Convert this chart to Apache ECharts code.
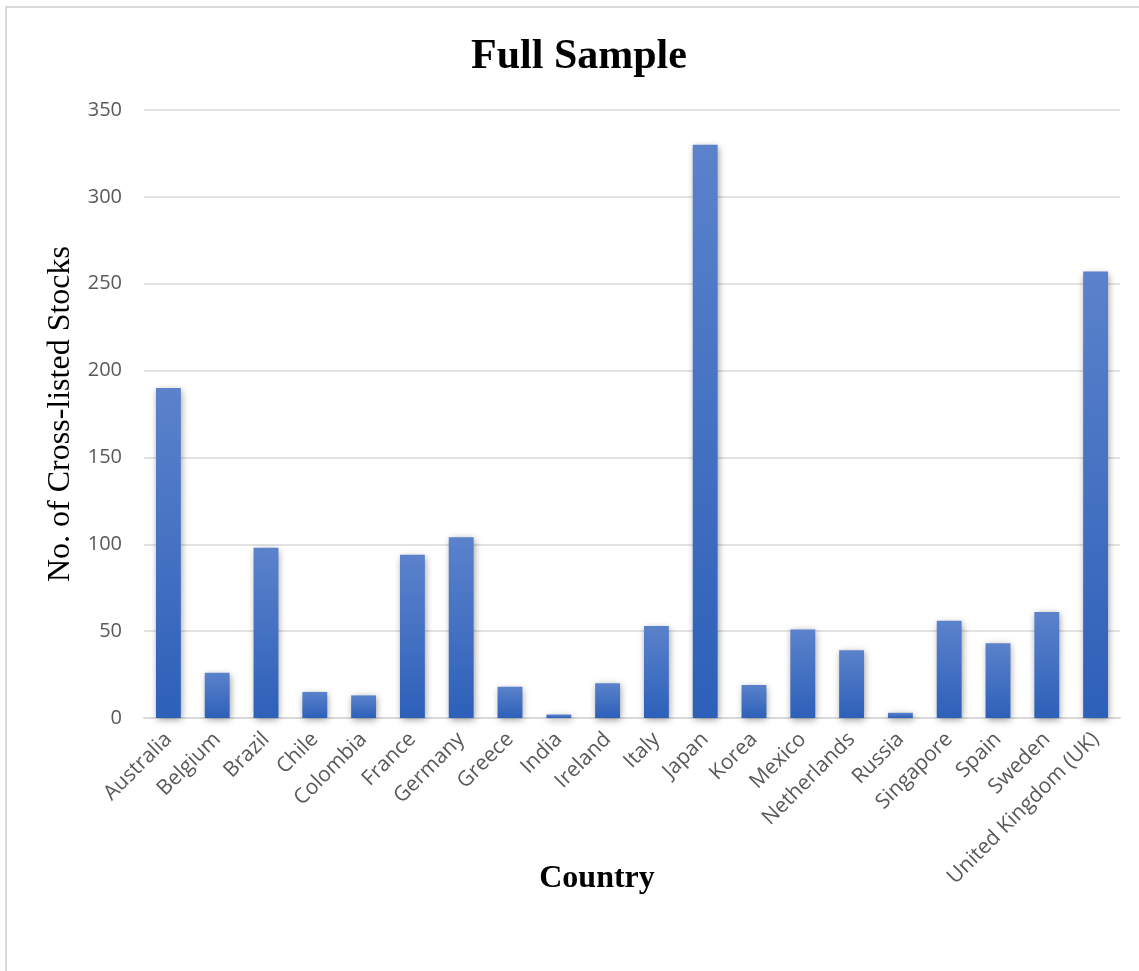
<!DOCTYPE html>
<html>
<head>
<meta charset="utf-8">
<script src="https://cdn.jsdelivr.net/npm/echarts@6/dist/echarts.min.js"></script>
<style>
  html, body { margin: 0; padding: 0; background: #ffffff; }
  #chart { width: 1139px; height: 971px; }
</style>
</head>
<body>
<div id="chart"></div>
<script>
// Number of cross-listed stocks per home country
const countries = [
  'Australia', 'Belgium', 'Brazil', 'Chile', 'Colombia', 'France', 'Germany',
  'Greece', 'India', 'Ireland', 'Italy', 'Japan', 'Korea', 'Mexico',
  'Netherlands', 'Russia', 'Singapore', 'Spain', 'Sweden', 'United Kingdom (UK)'
];
const stockCounts = [
  190, 26, 98, 15, 13, 94, 104,
  18, 2, 20, 53, 330, 19, 51,
  39, 3, 56, 43, 61, 257
];
const yTicks = { min: 0, max: 350, step: 50 };

const chart = echarts.init(document.getElementById('chart'));

const labelGrey = '#595959';
const gridGrey = '#d9d9d9';
const serif = '"Liberation Serif", "Times New Roman", serif';

chart.setOption({
  backgroundColor: '#ffffff',
  animation: false,
  graphic: [{
    type: 'rect',
    shape: { x: 6, y: 7, width: 1300, height: 1100 },
    style: { fill: 'none', stroke: gridGrey, lineWidth: 2 },
    silent: true
  }],
  title: {
    text: 'Full Sample',
    left: 574,
    top: 31,
    textAlign: 'center',
    textStyle: {
      fontFamily: serif,
      fontWeight: 'bold',
      fontSize: 42,
      color: '#000000'
    }
  },
  grid: { left: 144, right: 19, top: 110, bottom: 253, containLabel: false },
  xAxis: {
    type: 'category',
    data: countries,
    name: 'Country',
    nameLocation: 'middle',
    nameGap: 145,
    nameMoveOverlap: false,
    nameTextStyle: {
      fontFamily: serif,
      fontWeight: 'bold',
      fontSize: 32,
      color: '#000000',
      padding: [0, 0, 0, -70]
    },
    axisLine: { show: true, lineStyle: { color: gridGrey, width: 2 } },
    axisTick: { show: false },
    axisLabel: {
      interval: 0,
      rotate: 45,
      margin: 18,
      fontFamily: '"Open Sans", sans-serif',
      fontSize: 21,
      color: labelGrey
    }
  },
  yAxis: {
    type: 'value',
    min: yTicks.min,
    max: yTicks.max,
    interval: yTicks.step,
    name: 'No. of Cross-listed Stocks',
    nameLocation: 'middle',
    nameGap: 64,
    nameTextStyle: {
      fontFamily: serif,
      fontSize: 32,
      color: '#000000'
    },
    axisLine: { show: false },
    axisTick: { show: false },
    axisLabel: {
      margin: 22,
      fontFamily: '"Open Sans", sans-serif',
      fontSize: 20,
      color: labelGrey
    },
    splitLine: { lineStyle: { color: gridGrey, width: 1.5 } }
  },
  series: [{
    type: 'bar',
    data: stockCounts,
    barCategoryGap: '49%',
    itemStyle: {
      color: new echarts.graphic.LinearGradient(0, 0, 0, 1, [
        { offset: 0, color: '#5b82cb' },
        { offset: 1, color: '#2d60b9' }
      ]),
      shadowColor: 'rgba(0, 0, 0, 0.4)',
      shadowBlur: 7,
      shadowOffsetX: 1,
      shadowOffsetY: 2
    }
  }]
});
</script>
</body>
</html>
